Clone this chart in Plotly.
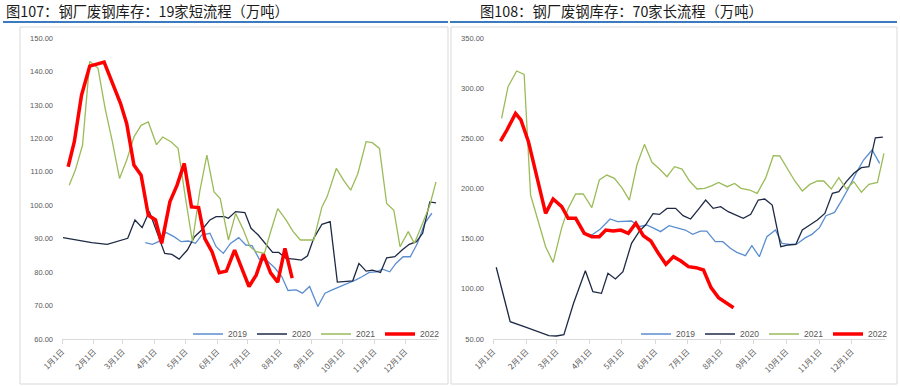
import pandas as pd
import plotly.graph_objects as go

# ---------------- data (day offset from Jan 1, value) ----------------
years = ["2019", "2020", "2021", "2022"]
month_labels = ["1月1日", "2月1日", "3月1日", "4月1日", "5月1日", "6月1日",
                "7月1日", "8月1日", "9月1日", "10月1日", "11月1日", "12月1日"]

# Left: 19 short-process mills
L2019_d = [81, 88, 94, 101, 109, 116, 123, 130, 136, 144, 150, 157, 164, 172, 179, 185, 192, 200, 207, 214,
           220, 228, 234, 241, 249, 256, 263, 271, 278, 286, 292, 299, 306, 312, 319, 325, 332, 339, 346, 353, 360]
L2019_v = [88.8, 88.3, 89.1, 91.9, 90.6, 89.1, 89.3, 88.6, 91.1, 91.6, 87.6, 85.6, 88.6, 90.3, 88.1, 87.9, 83.9, 83.3, 81.3, 78.6,
           74.5, 74.7, 73.7, 75.7, 69.7, 73.7, 74.7, 75.7, 76.7, 77.7, 78.6, 79.9, 80.1, 80.9, 80.1, 82.6, 84.6, 84.6, 88.6, 94.6, 97.6]

L2020_d = [1, 18, 29, 44, 53, 64, 71, 78, 85, 92, 100, 107, 114, 122, 129, 136, 144, 150, 158, 162,
           169, 178, 184, 191, 198, 205, 211, 218, 226, 233, 239, 245, 253, 261, 268, 276, 283, 289, 296, 302,
           310, 316, 324, 331, 338, 345, 351, 358, 364]
L2020_v = [90.3, 89.3, 88.8, 88.3, 89.1, 90.1, 95.6, 93.3, 98.1, 92.1, 85.6, 85.3, 83.9, 86.6, 90.6, 92.6, 95.6, 96.6, 96.6, 96.1,
           98.1, 97.8, 93.1, 91.1, 88.6, 85.9, 85.9, 84.1, 83.9, 83.6, 84.9, 90.1, 94.3, 95.1, 77.0, 77.2, 77.4, 82.6, 80.3, 80.6,
           79.9, 84.3, 84.6, 86.6, 88.3, 89.1, 91.6, 101.0, 100.7]

L2021_d = [7, 13, 20, 27, 35, 42, 49, 56, 63, 70, 77, 84, 92, 98, 106, 113, 120, 127, 134, 141,
           148, 154, 162, 169, 176, 183, 189, 197, 203, 210, 218, 225, 232, 239, 245, 253, 258, 267, 274, 281,
           288, 296, 302, 309, 316, 323, 329, 337, 343, 351, 358, 364]
L2021_v = [106, 110.5, 118, 143, 141, 128.9, 119, 108, 113.5, 120.4, 123.9, 124.9, 118.1, 120.4, 119, 117, 102.5, 89.1, 104, 115,
           104, 102, 89.6, 97.5, 93, 87.6, 86.1, 85.6, 92, 99, 95.6, 92.1, 89.6, 89.6, 89.6, 99.5, 102.5, 111, 107.5, 104.5,
           109.5, 119, 118.7, 117, 100.5, 98.5, 87.6, 92.1, 88.6, 94.6, 100, 107]

L2022_d = [6, 12, 19, 27, 41, 49, 57, 63, 70, 77, 84, 91, 97, 105, 112, 119, 126, 133, 139, 146,
           153, 160, 168, 175, 182, 189, 196, 203, 210, 217, 224]
L2022_v = [111.5, 119, 132.9, 141.6, 142.8, 136.9, 130.4, 124.4, 112, 109, 97, 95.6, 88.6, 101, 106, 112.5, 99.5, 99.3, 90, 86.1,
           79.8, 80.3, 86.6, 81.1, 75.7, 79.1, 85.3, 79.8, 77, 87.1, 78.2]

# Right: 70 long-process mills
R2019_d = [85, 92, 100, 109, 116, 123, 129, 136, 143, 150, 156, 164, 171, 179, 186, 193, 199, 207, 214, 221,
           227, 235, 241, 248, 255, 263, 269, 276, 283, 291, 297, 304, 310, 318, 324, 331, 338, 345, 353, 360]
R2019_v = [155.3, 153.6, 159.6, 169.6, 166.9, 166.9, 167.6, 161.9, 163.6, 160.3, 157, 163, 161, 158.6, 154.3, 157.6, 157.6, 147, 147, 140.4,
           136.4, 133, 143, 132, 152, 158.6, 145.3, 144.3, 144.7, 151, 154.3, 161, 172.9, 176.2, 186.9, 200.2, 215.1, 228.4, 238.4, 225.1]

R2020_d = [3, 16, 31, 52, 59, 66, 75, 86, 93, 101, 107, 114, 121, 129, 136, 142, 149, 155, 162, 170,
           177, 184, 192, 198, 205, 212, 219, 226, 233, 240, 247, 253, 260, 268, 275, 282, 288, 295, 302, 309,
           316, 322, 329, 336, 343, 350, 356, 363]
R2020_v = [121.5, 67.3, 61.5, 53.3, 53, 54.3, 85.6, 118.1, 97.1, 95.5, 115.5, 109.8, 117.1, 145.4, 157, 163.6, 174.9, 174.2, 180.2, 180.2,
           172.9, 169.6, 180.2, 188.5, 180.2, 181.9, 176.9, 173.6, 170.3, 174.2, 188.5, 189.5, 183.5, 142, 143.7, 144.3, 158.6, 163.6, 168.6, 175.2,
           195.2, 196.8, 206.8, 215.1, 220.7, 221.7, 250.6, 251.3]

R2021_d = [8, 14, 22, 29, 35, 42, 49, 56, 64, 70, 77, 84, 92, 99, 106, 113, 120, 127, 134, 141,
           148, 155, 162, 169, 176, 183, 190, 197, 204, 210, 218, 225, 231, 239, 246, 254, 261, 267, 274, 281,
           288, 295, 302, 308, 315, 322, 329, 336, 343, 350, 358, 364]
R2021_v = [269.9, 301.5, 317.1, 313.8, 193.5, 166.9, 142, 126.4, 161, 180.2, 194.5, 194.5, 180.9, 208.5, 213.4, 210.1, 200.8, 188.5, 223.4, 244,
           226.1, 219.4, 211.8, 221.7, 219.4, 207.5, 199.5, 200.2, 202.8, 206.1, 201.8, 205.1, 200.2, 198.5, 195.2, 210.8, 232.7, 232.4, 220.1, 207.5,
           197.5, 204.1, 207.5, 207.5, 199.5, 210.8, 199.5, 206.8, 196.2, 204.1, 206.1, 235]

R2022_d = [7, 13, 21, 26, 33, 41, 49, 56, 64, 70, 77, 85, 92, 99, 105, 112, 119, 126, 133, 140,
           147, 154, 161, 168, 175, 182, 189, 196, 203, 210, 217, 224]
R2022_v = [247.3, 258.3, 274.9, 268.3, 246.7, 210.1, 175.2, 189.5, 181.9, 170.3, 170.3, 155.3, 152, 152, 158.6, 157.6, 158.6, 155.3, 165.3, 153,
           147.7, 135.4, 124.4, 132.1, 127.7, 122.1, 121.1, 118.8, 101.2, 91.2, 86.5, 81.2]

# ---------------- styling ----------------
W, H = 900, 387
colors = {"2019": "#5b8ed0", "2020": "#1e2a44", "2021": "#9bbb59", "2022": "#ff0000"}
widths = {"2019": 1.3, "2020": 1.3, "2021": 1.3, "2022": 3.5}
base = pd.Timestamp("2022-01-01")


def to_dates(days):
    return [base + pd.Timedelta(days=int(d)) for d in days]


month_starts = [pd.Timestamp(2022, m, 1) for m in range(1, 13)]

fig = go.Figure()
left = {"2019": (L2019_d, L2019_v), "2020": (L2020_d, L2020_v),
        "2021": (L2021_d, L2021_v), "2022": (L2022_d, L2022_v)}
right = {"2019": (R2019_d, R2019_v), "2020": (R2020_d, R2020_v),
         "2021": (R2021_d, R2021_v), "2022": (R2022_d, R2022_v)}

for y in years:
    d, v = left[y]
    fig.add_trace(go.Scatter(x=to_dates(d), y=v, mode="lines", name=y,
                             line=dict(color=colors[y], width=widths[y]),
                             xaxis="x", yaxis="y", legend="legend"))
for y in years:
    d, v = right[y]
    fig.add_trace(go.Scatter(x=to_dates(d), y=v, mode="lines", name=y,
                             line=dict(color=colors[y], width=widths[y]),
                             xaxis="x2", yaxis="y2", legend="legend2"))

tick_font = dict(family="Noto Sans CJK SC", size=8, color="#595959")
ytick_font = dict(family="Liberation Sans", size=7.5, color="#595959")
ydom = [48 / H, 349 / H]

xcommon = dict(type="date", range=[pd.Timestamp("2022-01-01"), pd.Timestamp("2023-01-01")],
               tickvals=month_starts, ticktext=month_labels, tickangle=-45,
               tickfont=tick_font, showgrid=False, zeroline=False,
               showline=True, linecolor="#d9d9d9", linewidth=1,
               ticks="outside", ticklen=4, tickcolor="#d9d9d9", automargin=False)
ycommon = dict(showgrid=False, zeroline=False, showline=False, ticks="",
               tickformat=".2f", tickfont=ytick_font, ticklabelstandoff=8, automargin=False)

legend_common = dict(orientation="h", y=(H - 334) / H, yanchor="middle",
                     bgcolor="rgba(0,0,0,0)", font=dict(family="Liberation Sans", size=8.5, color="#595959"),
                     itemwidth=30, entrywidth=19, entrywidthmode="pixels", tracegroupgap=0)

fig.update_layout(
    width=W, height=H, autosize=False,
    margin=dict(l=0, r=0, t=0, b=0, pad=0, autoexpand=False),
    paper_bgcolor="white", plot_bgcolor="white",
    xaxis=dict(domain=[62 / W, 437 / W], anchor="y", **xcommon),
    yaxis=dict(domain=ydom, anchor="x", range=[60, 150], dtick=10, **ycommon),
    xaxis2=dict(domain=[493 / W, 885 / W], anchor="y2", **xcommon),
    yaxis2=dict(domain=ydom, anchor="x2", range=[50, 350], dtick=50, **ycommon),
    legend=dict(x=444 / W, xanchor="right", **legend_common),
    legend2=dict(x=892 / W, xanchor="right", **legend_common),
    showlegend=True,
)

# frames and header rules
shapes = [
    dict(type="rect", xref="paper", yref="paper", x0=20 / W, x1=448 / W, y0=(H - 384) / H, y1=(H - 27) / H,
         line=dict(color="#d9d9d9", width=1)),
    dict(type="rect", xref="paper", yref="paper", x0=451 / W, x1=897 / W, y0=(H - 384) / H, y1=(H - 27) / H,
         line=dict(color="#d9d9d9", width=1)),
    dict(type="line", xref="paper", yref="paper", x0=3 / W, x1=448 / W, y0=(H - 22) / H, y1=(H - 22) / H,
         line=dict(color="#3a7abf", width=2)),
    dict(type="line", xref="paper", yref="paper", x0=450 / W, x1=897 / W, y0=(H - 22) / H, y1=(H - 22) / H,
         line=dict(color="#3a7abf", width=2)),
]
fig.update_layout(shapes=shapes)

title_font = dict(family="Noto Sans CJK SC", size=14.3, color="#1a1a1a")
fig.add_annotation(text="图107：钢厂废钢库存：19家短流程（万吨）", xref="paper", yref="paper",
                   x=4 / W, y=(H - 11) / H, xanchor="left", yanchor="middle", showarrow=False, font=title_font)
fig.add_annotation(text="图108：钢厂废钢库存：70家长流程（万吨）", xref="paper", yref="paper",
                   x=478 / W, y=(H - 11) / H, xanchor="left", yanchor="middle", showarrow=False, font=title_font)

fig.write_html("out.html", config={"displayModeBar": False},
               post_script="document.body.style.margin='0';document.body.style.overflow='hidden';")
